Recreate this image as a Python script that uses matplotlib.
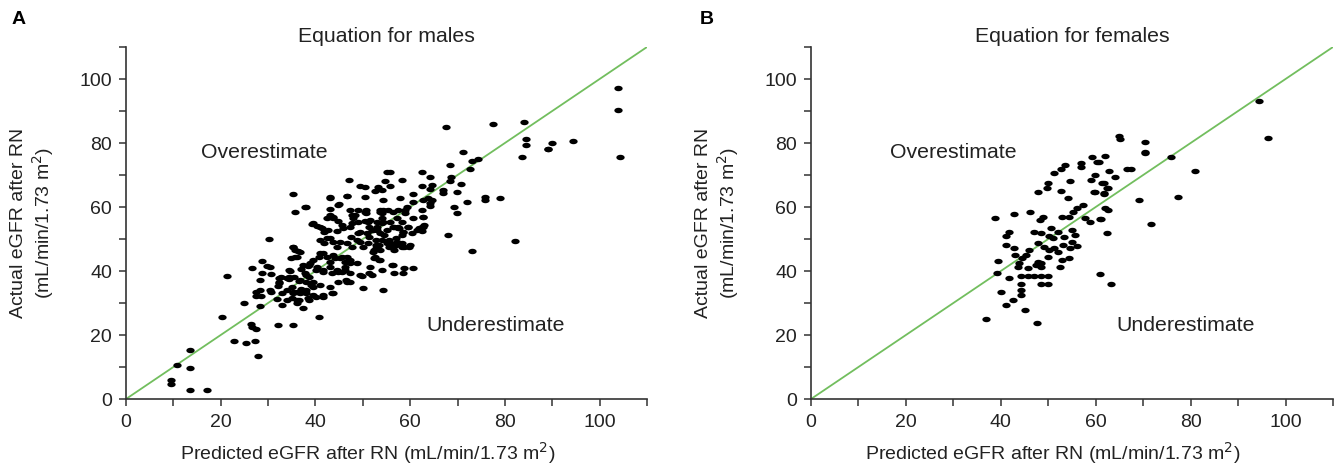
import numpy as np
import matplotlib
matplotlib.use("Agg")
import matplotlib.pyplot as plt
from matplotlib.ticker import MultipleLocator

plt.rcParams['font.family'] = ['Liberation Sans', 'DejaVu Sans']

# ---------------- data ----------------
male_pred = [30.1, 35.2, 36.4, 35.6, 28.8, 29.7, 26.5, 34.7, 30.7, 32.8, 21.4, 28.2, 32.4, 32.0, 28.2, 30.7, 27.5, 28.6, 25.0, 28.2,
             31.8, 20.3, 26.3, 26.5, 27.5, 32.0, 35.2, 22.7, 25.4, 27.3, 27.8, 13.6, 10.8, 13.6, 9.5, 9.5, 13.6, 17.2,
             34.5, 35.5, 36.5, 35.0, 34.0, 36.0, 37.0, 38.0, 36.5, 38.5, 38.0, 39.0, 37.0, 38.5,
             67.6, 77.5, 84.1, 84.5, 84.5, 83.7, 89.2, 71.2, 73.1, 74.4, 68.4, 72.7, 68.6, 68.4, 55.1, 55.7, 62.5, 64.2, 47.0, 54.7,
             58.3, 49.4, 50.4, 53.2, 55.7, 52.5, 54.0, 62.5, 64.6, 60.6, 64.2, 67.0, 67.0, 69.9, 35.2, 43.0, 46.6, 50.4, 54.2, 57.8,
             60.6, 62.7, 63.8, 64.6, 75.8, 75.8, 79.0, 72.0, 38.1, 43.0, 44.7, 47.2, 48.3, 50.6, 50.6, 53.6, 54.2, 54.0, 56.4, 59.3,
             58.9, 62.5, 64.2, 64.2, 69.3, 69.9, 68.0, 73.1, 82.2, 42.4, 43.6, 44.7, 47.9, 48.9, 50.4, 51.5, 53.0, 54.0, 54.2, 57.2,
             58.3, 60.6, 62.7, 39.2, 40.3, 41.3, 42.6, 44.5, 45.8, 47.2, 49.4, 50.8, 52.1, 53.6, 55.1, 56.4, 57.4, 58.5, 59.5, 61.4,
             62.5, 35.2, 36.7, 40.9, 41.9, 43.0, 45.1, 46.6, 47.7, 48.7, 50.0, 51.1, 53.0, 53.6, 55.7, 56.4, 57.2, 58.3, 60.0, 40.9,
             42.4, 43.6, 45.1, 46.6, 47.2, 48.7, 52.1, 52.5, 53.6, 56.4, 58.5, 60.6, 37.3, 38.8, 40.3, 41.5, 43.0, 44.7, 46.2, 47.2,
             51.5, 51.9, 30.3, 28.8, 32.4, 34.5, 36.7, 38.1, 39.4, 40.9, 43.0, 44.7, 46.6, 50.0, 54.2, 27.5, 30.3, 33.0, 35.2, 36.7,
             39.4, 41.5, 43.4,
             103.8, 103.8, 104.2, 94.3, 90.0, 89.0, 62.7, 62.7, 62.5, 70.8,
             40.7, 33.0, 37.3, 35.0, 36.0, 49.8,
             43.0, 46.7, 45.0, 37.7, 35.6, 43.0, 43.7, 47.7, 48.9, 50.4, 53.6, 55.3, 57.4, 58.9,
             39.4, 40.9, 41.9, 45.7, 47.8, 51.0, 52.9, 54.0, 55.7, 57.4, 58.5, 59.5,
             42.4, 43.6, 44.5, 47.6, 48.9, 49.3, 51.4, 52.8, 53.5, 55.6, 57.1, 56.6, 58.7,
             35.6, 36.2, 34.9, 39.4, 38.7, 40.8, 41.5, 43.0, 44.1, 45.5, 46.2, 47.2, 46.2,
             52.4, 52.4, 53.5, 56.2, 49.3, 51.4, 54.1, 56.6, 58.7,
             40.2, 41.5, 38.7, 37.7, 34.5, 33.9, 32.4, 43.4, 44.6, 45.5,
             39.4, 38.1, 36.6, 35.2, 33.9, 36.0, 38.7, 40.2, 41.5, 43.6, 46.5, 47.2,
             56.6, 57.7, 61.9, 63.0, 60.4, 58.3, 57.0, 54.5, 53.0, 54.1, 52.0, 51.4,
             55.0, 55.6, 57.1, 58.3, 59.8, 52.8, 52.8]
male_actual = [50.0, 47.5, 46.2, 44.4, 43.1, 41.6, 40.9, 40.0, 39.0, 38.1, 38.4, 37.2, 36.3, 35.2, 34.0, 33.4, 32.2, 32.2, 30.0, 29.0,
               31.2, 25.6, 23.4, 22.5, 21.9, 23.1, 23.1, 18.1, 17.5, 18.1, 13.4, 15.3, 10.6, 9.7, 5.9, 4.7, 2.8, 2.8,
               37.5, 38.0, 37.0, 35.0, 34.0, 33.5, 34.5, 33.0, 31.0, 31.5, 36.5, 35.5, 40.5, 41.5,
               85.0, 85.9, 86.6, 81.2, 79.4, 75.6, 78.1, 77.2, 74.4, 75.0, 73.1, 71.9, 69.4, 68.1, 70.9, 70.9, 70.9, 69.4, 68.4, 68.1,
               68.4, 66.6, 66.3, 66.3, 66.6, 65.0, 65.3, 66.6, 66.9, 64.0, 65.6, 65.3, 64.4, 64.7, 64.0, 62.8, 63.4, 63.1, 62.2, 62.8,
               61.6, 62.2, 62.8, 62.2, 63.1, 62.2, 62.8, 61.6, 60.0, 59.4, 60.6, 59.0, 57.5, 59.0, 58.1, 59.0, 59.0, 58.1, 58.4, 60.0,
               59.0, 59.0, 60.3, 61.3, 60.0, 58.1, 51.2, 46.3, 49.4, 56.6, 56.9, 55.6, 56.6, 55.3, 55.6, 55.9, 55.3, 56.6, 55.3, 56.6,
               55.3, 56.6, 56.9, 54.7, 54.1, 53.4, 52.8, 52.5, 53.4, 53.8, 52.2, 51.9, 52.8, 51.9, 52.8, 53.8, 53.4, 52.2, 53.8, 52.8,
               53.8, 47.5, 45.9, 49.7, 48.8, 50.3, 49.1, 48.8, 47.5, 49.7, 47.5, 48.8, 47.5, 46.6, 48.8, 47.5, 49.1, 47.5, 48.1, 45.6,
               44.4, 45.0, 44.1, 44.4, 43.4, 42.5, 45.9, 44.4, 43.4, 41.9, 39.4, 40.9, 41.9, 42.5, 41.3, 40.3, 41.3, 39.7, 40.3, 39.4,
               41.3, 38.8, 41.3, 39.4, 37.8, 38.1, 37.2, 38.8, 36.6, 35.6, 35.0, 36.6, 36.6, 34.7, 34.1, 33.4, 34.1, 33.1, 33.4, 33.1,
               32.5, 31.9, 33.1,
               97.2, 90.3, 75.6, 80.6, 80.0, 78.1, 56.9, 53.8, 52.5, 67.2,
               25.6, 29.4, 28.4, 31.6, 30.0, 38.4,
               63.1, 63.4, 61.0, 60.0, 58.4, 57.5, 56.6, 57.5, 59.0, 58.4, 58.4, 59.0, 59.0, 58.1,
               55.0, 53.8, 52.2, 54.4, 55.0, 55.3, 53.8, 55.0, 55.3, 53.8, 52.2, 53.8,
               50.3, 49.1, 47.5, 50.6, 51.9, 49.1, 50.6, 49.7, 48.1, 49.7, 48.8, 46.6, 47.5,
               46.6, 44.4, 44.1, 43.4, 41.9, 44.4, 45.6, 42.8, 44.1, 44.4, 42.8, 42.5, 41.3,
               46.6, 44.1, 43.4, 41.9, 38.8, 39.4, 40.3, 39.4, 40.9,
               40.3, 39.7, 38.1, 39.4, 40.3, 37.8, 36.6, 39.4, 40.3, 39.7,
               35.0, 34.1, 33.4, 33.1, 30.9, 30.9, 30.9, 31.9, 32.5, 33.1, 37.2, 36.6,
               53.8, 53.4, 53.4, 54.4, 51.9, 51.2, 50.3, 51.2, 52.8, 49.7, 52.8, 53.8,
               48.8, 47.5, 48.1, 48.8, 47.5, 48.1, 47.2]

female_pred = [59.2, 62.0, 57.0, 56.8, 60.3, 60.7, 53.6, 52.6, 51.3, 62.8, 59.8, 59.0, 61.3, 54.5, 50.0, 49.8, 47.9, 52.6, 59.6, 61.8,
               62.6, 54.1, 57.3, 56.0, 55.3, 62.0, 62.6, 46.2, 42.7, 38.7, 48.9, 48.3, 52.8, 54.3, 57.7, 58.8, 60.9, 41.7, 41.0, 47.0,
               48.5, 50.6, 52.1, 50.2, 51.1, 54.9, 55.6, 53.4, 54.9, 56.0, 62.4, 41.0, 42.7, 47.9, 49.1, 50.2, 51.3, 52.1, 53.2, 54.5,
               45.3, 50.0, 52.8, 54.3, 52.4, 39.5, 43.8, 43.6, 47.9, 48.5, 47.5, 48.5, 45.7, 39.3, 44.2, 45.7, 47.0, 48.5, 50.0, 41.7,
               48.5, 50.0, 44.2, 60.9, 63.2, 44.2, 44.2, 40.0, 42.5, 41.0, 45.1, 36.8, 47.6,
               65.0, 65.2, 70.3, 70.3, 70.3, 75.9, 94.4, 96.4, 81.0, 77.4, 69.2, 71.6, 66.5, 67.5, 64.1, 61.7, 62.4, 59.8, 61.7, 61.1,
               44.5, 46.0, 43.0]
female_actual = [75.6, 75.9, 73.8, 72.5, 74.0, 74.0, 73.0, 71.9, 70.6, 71.3, 70.0, 68.4, 67.5, 68.0, 67.5, 66.0, 64.7, 65.0, 64.7, 64.4,
                 66.0, 62.8, 60.6, 59.7, 58.4, 59.7, 59.0, 58.4, 57.8, 56.6, 56.9, 56.0, 56.9, 56.9, 56.6, 55.3, 56.3, 52.2, 51.0, 52.2,
                 51.9, 53.4, 52.2, 51.0, 50.3, 52.8, 51.3, 50.6, 49.0, 47.8, 51.9, 48.1, 47.2, 48.8, 47.5, 46.6, 47.2, 45.9, 48.1, 47.2,
                 45.0, 44.4, 43.4, 44.0, 41.3, 43.1, 42.5, 41.3, 42.8, 42.5, 41.9, 41.3, 41.0, 39.4, 38.4, 38.4, 38.4, 38.4, 38.4, 37.8,
                 35.9, 35.9, 35.9, 39.0, 35.9, 34.0, 32.5, 33.4, 30.9, 29.4, 27.8, 25.0, 23.7,
                 82.2, 81.2, 80.3, 77.2, 76.9, 75.6, 93.1, 81.6, 71.2, 63.1, 62.2, 54.7, 71.9, 71.9, 69.4, 67.5, 66.0, 64.7, 64.0, 56.3,
                 44.0, 46.5, 45.0]

x_ticks = [0, 20, 40, 60, 80, 100]
y_ticks = [0, 20, 40, 60, 80, 100]
titles = ["Equation for males", "Equation for females"]
panel_letters = ["A", "B"]
xlabel = "Predicted eGFR after RN (mL/min/1.73 m$^2$)"
ylabel = "Actual eGFR after RN\n(mL/min/1.73 m$^2$)"

# ---------------- figure ----------------
W, H = 1342, 468
fig = plt.figure(figsize=(W / 100, H / 100), dpi=100)
ax1 = fig.add_axes([126 / W, 69 / H, 521 / W, 352 / H])
ax2 = fig.add_axes([811 / W, 69 / H, 522 / W, 352 / H])

t = np.linspace(0, 2 * np.pi, 24)
ell = np.column_stack([1.45 * np.cos(t), 0.95 * np.sin(t)])

spine_col = '#333333'
txt_col = '#222222'
fs = 14
fs_big = 15.3

for ax, xs, ys, title in [(ax1, male_pred, male_actual, titles[0]),
                          (ax2, female_pred, female_actual, titles[1])]:
    ax.set_xlim(0, 110)
    ax.set_ylim(0, 110)
    ax.plot([0, 110], [0, 110], color='#72be5e', lw=1.3, zorder=1)
    ax.plot(xs, ys, ls='none', marker=ell, ms=6, color='black', mec='black', mew=0, zorder=2)
    for s in ['top', 'right']:
        ax.spines[s].set_visible(False)
    for s in ['left', 'bottom']:
        ax.spines[s].set_color(spine_col)
        ax.spines[s].set_linewidth(1.2)
    ax.set_xticks(x_ticks)
    ax.set_yticks(y_ticks)
    ax.xaxis.set_minor_locator(MultipleLocator(10))
    ax.yaxis.set_minor_locator(MultipleLocator(10))
    ax.tick_params(which='both', direction='out', length=5, width=1.1, color=spine_col,
                   labelsize=fs, labelcolor=txt_col)
    ax.tick_params(axis='x', pad=6)
    ax.tick_params(axis='y', pad=5)
    ax.set_xlabel(xlabel, fontsize=fs, color=txt_col)
    ax.xaxis.set_label_coords(0.463, -0.118)
    ax.set_ylabel(ylabel, fontsize=fs, color=txt_col, linespacing=1.15)
    ax.yaxis.set_label_coords(-0.134, 0.5)
    ax.text(0.5, 1.03, title, transform=ax.transAxes, ha='center', va='center',
            fontsize=fs_big, color=txt_col)
    ax.text(15.8 if ax is ax1 else 16.6, 77, "Overestimate", ha='left', va='center',
            fontsize=fs_big, color=txt_col)
    ax.text(63.4 if ax is ax1 else 64.3, 23.1, "Underestimate", ha='left', va='center',
            fontsize=fs_big, color=txt_col)

fig.text(12 / W, 1 - 20 / H, panel_letters[0], fontsize=fs, fontweight='bold', va='center', ha='left')
fig.text(700 / W, 1 - 20 / H, panel_letters[1], fontsize=fs, fontweight='bold', va='center', ha='left')

fig.savefig("out.png", dpi=100)
